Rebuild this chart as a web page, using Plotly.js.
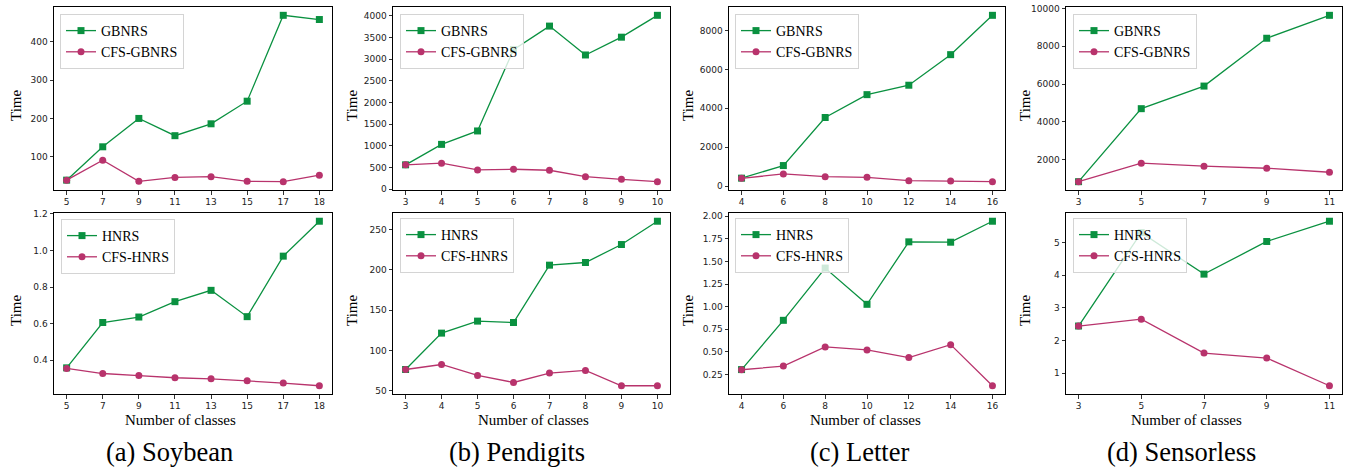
<!DOCTYPE html>
<html>
<head>
<meta charset="utf-8">
<script src="https://cdn.plot.ly/plotly-3.0.1.min.js"></script>
<style>html,body{margin:0;padding:0;background:#fff;}#chart{width:1346px;height:468px;}</style>
</head>
<body>
<div id="chart"></div>
<script>
// ---- Data ----
const soyClasses = ['5','7','9','11','13','15','17','18'];
const soyGBNRS = [39,126,200,155,186,245,469,458];
const soyCFSGBNRS = [39,91,36,46,48,36,35,52];
const soyHNRS = [0.358,0.606,0.636,0.720,0.782,0.638,0.969,1.160];
const soyCFSHNRS = [0.355,0.327,0.316,0.304,0.298,0.287,0.275,0.260];

const penClasses = ['3','4','5','6','7','8','9','10'];
const penGBNRS = [560,1033,1343,3222,3765,3098,3509,4014];
const penCFSGBNRS = [560,598,443,458,435,287,225,171];
const penHNRS = [76.4,121.5,136.4,134.7,205.8,209.1,231.4,260.3];
const penCFSHNRS = [76.4,82.6,69.0,60.3,71.9,75.2,56.2,56.2];

const letClasses = ['4','6','8','10','12','14','16'];
const letGBNRS = [406,1054,3525,4700,5184,6756,8778];
const letCFSGBNRS = [397,622,484,449,276,259,225];
const letHNRS = [0.304,0.849,1.427,1.026,1.717,1.713,1.945];
const letCFSHNRS = [0.302,0.343,0.555,0.522,0.437,0.580,0.125];

const senClasses = ['3','5','7','9','11'];
const senGBNRS = [824,4695,5893,8428,9644];
const senCFSGBNRS = [824,1804,1644,1537,1323];
const senHNRS = [2.44,5.30,4.03,5.03,5.65];
const senCFSHNRS = [2.44,2.65,1.61,1.46,0.61];

const topNames = ['GBNRS','CFS-GBNRS'];
const botNames = ['HNRS','CFS-HNRS'];
const captions = ['(a) Soybean','(b) Pendigits','(c) Letter','(d) Sensorless'];
const xTitle = 'Number of classes';
const yTitle = 'Time';

// ---- Layout helpers ----
const W = 1346, H = 468;
const GREEN = '#0a9140', PINK = '#b8336c';
const px = v => v / W;
const py = v => 1 - v / H;

const colsX = [[54,332],[393,670],[729,1005],[1066,1342]];
const rowsY = [[7,190],[213,394]];
const panels = [
  {cls: soyClasses, a: soyGBNRS, b: soyCFSGBNRS, names: topNames, row:0, col:0, dtick:100, fmt:'d', leg:[60,14]},
  {cls: penClasses, a: penGBNRS, b: penCFSGBNRS, names: topNames, row:0, col:1, dtick:500, fmt:'d', leg:[400,14]},
  {cls: letClasses, a: letGBNRS, b: letCFSGBNRS, names: topNames, row:0, col:2, dtick:2000, fmt:'d', leg:[735,14]},
  {cls: senClasses, a: senGBNRS, b: senCFSGBNRS, names: topNames, row:0, col:3, dtick:2000, fmt:'d', leg:[1073,14]},
  {cls: soyClasses, a: soyHNRS, b: soyCFSHNRS, names: botNames, row:1, col:0, dtick:0.2, fmt:'.1f', leg:[61,219]},
  {cls: penClasses, a: penHNRS, b: penCFSHNRS, names: botNames, row:1, col:1, dtick:50, fmt:'d', leg:[400,218]},
  {cls: letClasses, a: letHNRS, b: letCFSHNRS, names: botNames, row:1, col:2, dtick:0.25, fmt:'.2f', leg:[735,218]},
  {cls: senClasses, a: senHNRS, b: senCFSHNRS, names: botNames, row:1, col:3, dtick:1, fmt:'d', leg:[1073,218]}
];

function padRange(arrs){
  const all = [].concat(...arrs);
  const mn = Math.min(...all), mx = Math.max(...all);
  const s = mx - mn;
  return [mn - 0.05*s, mx + 0.05*s];
}

const data = [];
const layout = {
  width: W, height: H,
  margin: {l:0, r:0, t:0, b:0},
  paper_bgcolor: '#fff', plot_bgcolor: '#fff',
  showlegend: true,
  annotations: [],
  font: {family: 'Liberation Serif', color: '#000'}
};

panels.forEach((p, i) => {
  const n = i + 1;
  const xa = 'xaxis' + (n === 1 ? '' : n);
  const ya = 'yaxis' + (n === 1 ? '' : n);
  const xr = 'x' + (n === 1 ? '' : n);
  const yr = 'y' + (n === 1 ? '' : n);
  const lg = 'legend' + (n === 1 ? '' : n);
  const cx = colsX[p.col], ry = rowsY[p.row];
  const nPts = p.cls.length - 1;
  const common = {
    showline: true, linecolor: '#000', linewidth: 1, mirror: true,
    ticks: 'outside', ticklen: 3.5, tickwidth: 0.8, tickcolor: '#000',
    showgrid: false, zeroline: false,
    tickfont: {family: 'DejaVu Sans', size: 9, color: '#222'},
    fixedrange: true
  };
  layout[xa] = Object.assign({}, common, {
    type: 'category', anchor: yr,
    domain: [px(cx[0]), px(cx[1])],
    range: [-0.05*nPts, nPts + 0.05*nPts]
  });
  layout[ya] = Object.assign({}, common, {
    anchor: xr,
    domain: [py(ry[1]), py(ry[0])],
    range: padRange([p.a, p.b]),
    dtick: p.dtick, tick0: 0,
    tickformat: p.fmt, exponentformat: 'none', separatethousands: false
  });
  layout[lg] = {
    x: px(p.leg[0]), y: py(p.leg[1]), xanchor: 'left', yanchor: 'top',
    xref: 'paper', yref: 'paper',
    bgcolor: 'rgba(255,255,255,0.8)', bordercolor: '#d4d4d4', borderwidth: 1,
    font: {family: 'Liberation Serif', size: 14, color: '#000'},
    tracegroupgap: 0, itemwidth: 30
  };
  data.push({
    x: p.cls, y: p.a, name: p.names[0], type: 'scatter', mode: 'lines+markers',
    xaxis: xr, yaxis: yr, legend: lg,
    line: {color: GREEN, width: 1.3},
    marker: {symbol: 'square', size: 7, color: GREEN}
  });
  data.push({
    x: p.cls, y: p.b, name: p.names[1], type: 'scatter', mode: 'lines+markers',
    xaxis: xr, yaxis: yr, legend: lg,
    line: {color: PINK, width: 1.3},
    marker: {symbol: 'circle', size: 7, color: PINK}
  });
});

// Y-axis titles
const timeX = [16, 352, 688, 1025];
const timeY = [106, 311];
timeY.forEach(yy => timeX.forEach(xx => {
  layout.annotations.push({
    text: yTitle, x: px(xx), y: py(yy), xref: 'paper', yref: 'paper',
    xanchor: 'center', yanchor: 'middle', textangle: -90, showarrow: false,
    font: {family: 'Liberation Serif', size: 15, color: '#000'}
  });
}));
// X-axis titles
const xtX = [180, 533, 865, 1186];
xtX.forEach(xx => layout.annotations.push({
  text: xTitle, x: px(xx), y: py(420), xref: 'paper', yref: 'paper',
  xanchor: 'center', yanchor: 'middle', showarrow: false,
  font: {family: 'Liberation Serif', size: 15, color: '#000'}
}));
// Captions
const capX = [169, 517, 860, 1181];
capX.forEach((xx, i) => layout.annotations.push({
  text: captions[i], x: px(xx), y: py(452), xref: 'paper', yref: 'paper',
  xanchor: 'center', yanchor: 'middle', showarrow: false,
  font: {family: 'Liberation Serif', size: 26.5, color: '#000'}
}));

Plotly.newPlot('chart', data, layout, {displayModeBar: false, staticPlot: true});
</script>
</body>
</html>
